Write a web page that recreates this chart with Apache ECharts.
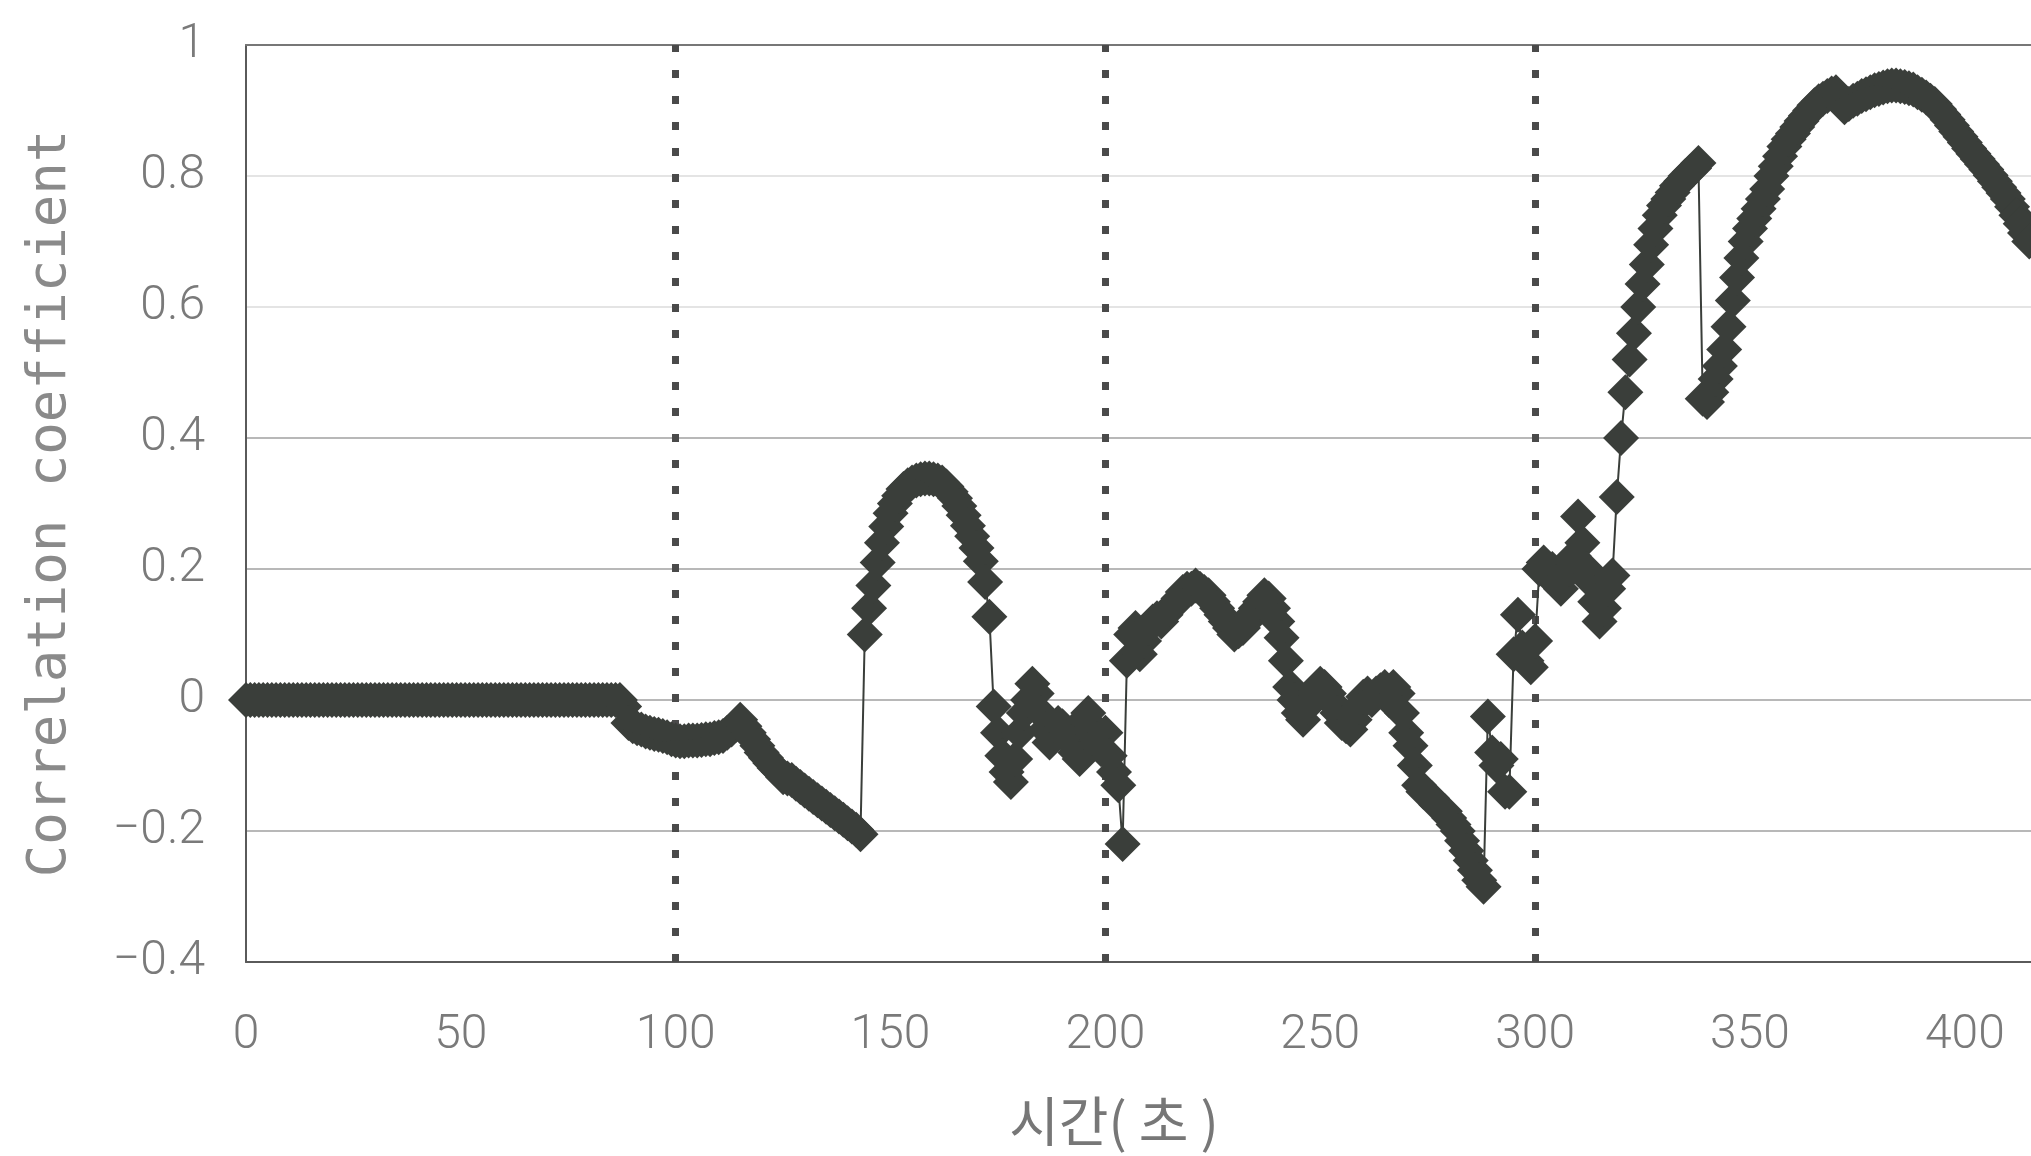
<!DOCTYPE html>
<html><head><meta charset="utf-8">
<script src="https://cdn.jsdelivr.net/npm/echarts@6/dist/echarts.min.js"></script>
<style>html,body{margin:0;padding:0;background:#fff}#chart{width:2031px;height:1156px}</style>
</head><body><div id="chart"></div>
<script>
// time axis: one sample per second starting at t = 0
const startTime = 0;
const stepSeconds = 1;
const xTickValues = [0, 50, 100, 150, 200, 250, 300, 350, 400];
const yTickValues = [-0.4, -0.2, 0, 0.2, 0.4, 0.6, 0.8, 1];
const dividerTimes = [100, 200, 300];

// t = 0 .. 87
const corrFlat = [
  0,0,0,0,0,0,0,0,0,0, 0,0,0,0,0,0,0,0,0,0,
  0,0,0,0,0,0,0,0,0,0, 0,0,0,0,0,0,0,0,0,0,
  0,0,0,0,0,0,0,0,0,0, 0,0,0,0,0,0,0,0,0,0,
  0,0,0,0,0,0,0,0,0,0, 0,0,0,0,0,0,0,0,0,0,
  0,0,0,0,0,0,0,0
];
// t = 88 .. 143
const corrDrop = [
  -0.01,-0.035,-0.04,-0.043,-0.045,-0.048,-0.05,-0.052,-0.053,-0.055,
  -0.057,-0.06,-0.062,-0.063,-0.063,-0.062,-0.062,-0.062,-0.061,-0.06,
  -0.06,-0.058,-0.057,-0.055,-0.05,-0.045,-0.038,-0.03,-0.04,-0.05,
  -0.06,-0.07,-0.08,-0.088,-0.096,-0.104,-0.11,-0.118,-0.12,-0.122,
  -0.128,-0.133,-0.138,-0.143,-0.148,-0.153,-0.158,-0.163,-0.168,-0.173,
  -0.178,-0.183,-0.188,-0.193,-0.198,-0.205
];
// t = 144 .. 173
const corrPeak = [
  0.10,0.14,0.175,0.21,0.24,0.265,0.285,0.30,0.312,0.322,
  0.328,0.332,0.335,0.337,0.338,0.338,0.337,0.335,0.332,0.326,
  0.318,0.308,0.296,0.282,0.266,0.25,0.232,0.212,0.18,0.127
];
// t = 174 .. 204
const corrMix = [
  -0.01,-0.05,-0.085,-0.11,-0.125,-0.09,-0.05,-0.02,0.0,0.025,
  0.01,-0.02,-0.045,-0.065,-0.05,-0.035,-0.04,-0.05,-0.065,-0.08,
  -0.09,-0.03,-0.02,-0.04,-0.06,-0.075,-0.05,-0.085,-0.11,-0.13,
  -0.22
];
// t = 205 .. 288
const corrMid = [
  0.06,0.1,0.11,0.07,0.09,0.11,0.12,0.125,0.12,0.13,
  0.14,0.145,0.155,0.165,0.17,0.17,0.175,0.17,0.165,0.16,
  0.15,0.14,0.13,0.12,0.11,0.1,0.105,0.11,0.12,0.13,
  0.14,0.15,0.16,0.155,0.14,0.12,0.095,0.06,0.02,0.0,
  -0.02,-0.03,-0.01,0.0,0.015,0.025,0.02,0.01,-0.005,-0.02,
  -0.035,-0.04,-0.045,-0.03,-0.01,0.005,0.01,0.0,0.01,0.015,
  0.02,0.0,0.02,0.01,-0.02,-0.05,-0.07,-0.1,-0.13,-0.14,
  -0.145,-0.15,-0.16,-0.165,-0.17,-0.18,-0.19,-0.2,-0.215,-0.23,
  -0.245,-0.26,-0.275,-0.285
];
// t = 289 .. 338
const corrRise = [
  -0.025,-0.08,-0.1,-0.09,-0.14,-0.14,0.07,0.13,0.08,0.06,
  0.05,0.09,0.2,0.21,0.19,0.2,0.18,0.17,0.19,0.2,
  0.22,0.28,0.24,0.2,0.18,0.15,0.12,0.14,0.17,0.19,
  0.31,0.4,0.47,0.52,0.56,0.6,0.635,0.665,0.695,0.72,
  0.74,0.755,0.765,0.775,0.785,0.792,0.8,0.806,0.812,0.82
];
// t = 339 .. 417
const corrTop = [
  0.46,0.455,0.47,0.49,0.51,0.535,0.57,0.61,0.645,0.675,
  0.7,0.72,0.735,0.75,0.765,0.78,0.8,0.815,0.83,0.845,
  0.856,0.865,0.875,0.884,0.892,0.9,0.908,0.914,0.918,0.922,
  0.926,0.928,0.92,0.905,0.91,0.915,0.918,0.922,0.925,0.928,
  0.931,0.933,0.935,0.937,0.938,0.938,0.937,0.936,0.934,0.932,
  0.928,0.924,0.92,0.915,0.91,0.902,0.894,0.886,0.877,0.868,
  0.86,0.851,0.842,0.834,0.826,0.818,0.81,0.801,0.792,0.783,
  0.774,0.765,0.753,0.74,0.727,0.713,0.70,0.687,0.674
];

const corrValues = [].concat(corrFlat, corrDrop, corrPeak, corrMix, corrMid, corrRise, corrTop);
const seriesData = corrValues.map((v, i) => [startTime + i * stepSeconds, v]);

const chart = echarts.init(document.getElementById('chart'), null, {renderer: 'canvas'});
const fmtY = v => {
  const r = Math.round(v * 10) / 10;
  return String(r).replace('-', '\u2212');
};
const tickFont = {fontFamily: 'Roboto', fontWeight: 300, fontSize: 48, color: '#7a7a7a'};
const xMax = 415.4; // picture is cut off just past 415 s

chart.setOption({
  animation: false,
  backgroundColor: '#ffffff',
  grid: {left: 246, top: 45, right: 0, bottom: 194, containLabel: false},
  xAxis: [{
    type: 'value', min: 0, max: xMax, interval: 50,
    name: '시간( 초 )', nameLocation: 'middle', nameGap: 132,
    nameTextStyle: {fontFamily: 'Noto Sans CJK KR', fontSize: 54, color: '#777', padding: [0, 49, 0, 0]},
    axisLine: {show: true, onZero: false, lineStyle: {color: '#5a5a5a', width: 2}},
    axisTick: {show: false},
    axisLabel: Object.assign({margin: 50, showMaxLabel: false, formatter: v => xTickValues.includes(v) ? String(v) : ''}, tickFont),
    splitLine: {show: false}
  }, {
    type: 'value', position: 'top', min: 0, max: xMax, interval: 50,
    axisLine: {show: true, onZero: false, lineStyle: {color: '#777', width: 2}},
    axisLabel: {show: false}, axisTick: {show: false}, splitLine: {show: false}
  }],
  yAxis: {
    type: 'value', min: -0.4, max: 1, interval: 0.2,
    name: 'Correlation coefficient', nameLocation: 'middle', nameGap: 168,
    nameTextStyle: {fontFamily: 'DejaVu Sans Mono', fontSize: 54, color: '#8a8a8a'},
    axisLine: {show: true, onZero: false, lineStyle: {color: '#5a5a5a', width: 2}},
    axisTick: {show: false},
    axisLabel: Object.assign({margin: 41, formatter: fmtY}, tickFont),
    splitLine: {show: true, lineStyle: {width: 2,
      color: ['#5a5a5a', '#b8b8b8', '#b8b8b8', '#b8b8b8', '#b8b8b8', '#e4e4e4', '#e4e4e4', '#808080']}}
  },
  series: [{
    type: 'line', xAxisIndex: 0, data: seriesData,
    symbol: 'diamond', symbolSize: 36, showAllSymbol: true,
    itemStyle: {color: '#3a3e3a'},
    lineStyle: {color: '#3a3e3a', width: 2},
    z: 3,
    markLine: {
      silent: true, z: 1, symbol: ['none', 'none'], label: {show: false},
      lineStyle: {type: [8, 18], width: 7, color: '#4a4a4a', cap: 'butt'},
      emphasis: {disabled: true},
      data: dividerTimes.map(t => ({xAxis: t}))
    }
  }]
});
</script></body></html>
